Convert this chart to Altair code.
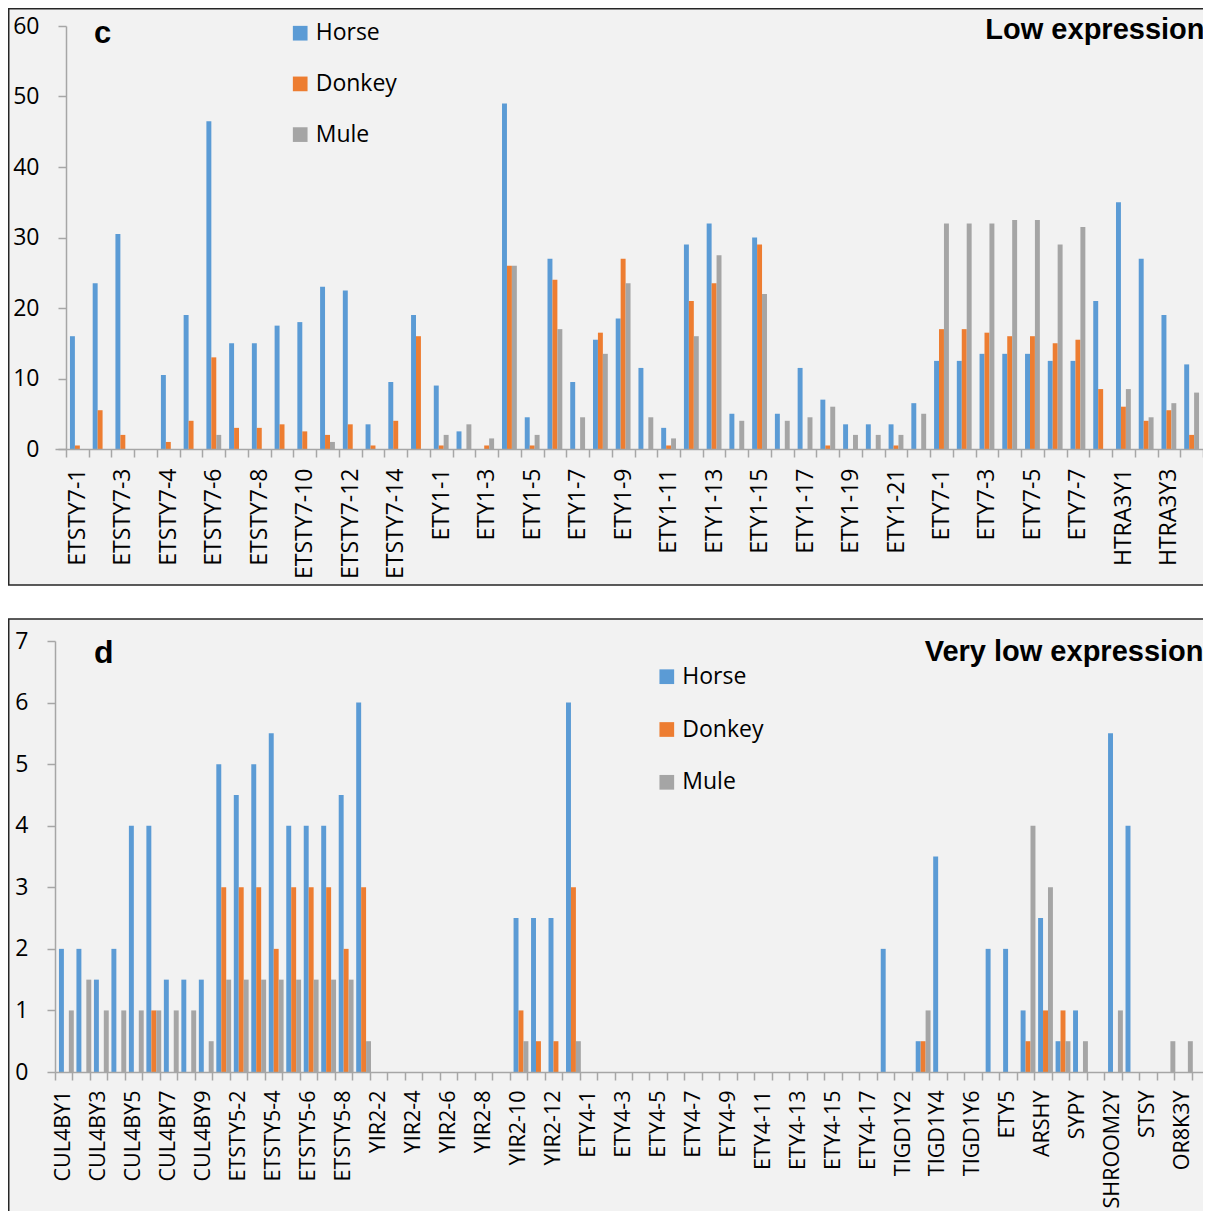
import json
import altair as alt
import pandas as pd

ANIMALS = ["Horse", "Donkey", "Mule"]
COLORS = ["#5b9bd5", "#ed7d31", "#a5a5a5"]

# ---------------- panel c : Low expression ----------------
GENES_C = [
    "ETSTY7-1", "ETSTY7-2", "ETSTY7-3", "ETSTY7-3b", "ETSTY7-4", "ETSTY7-5",
    "ETSTY7-6", "ETSTY7-7", "ETSTY7-8", "ETSTY7-9", "ETSTY7-10", "ETSTY7-11",
    "ETSTY7-12", "ETSTY7-13", "ETSTY7-14", "ETSTY7-15",
    "ETY1-1", "ETY1-2", "ETY1-3", "ETY1-4", "ETY1-5", "ETY1-6", "ETY1-7",
    "ETY1-8", "ETY1-9", "ETY1-10", "ETY1-11", "ETY1-12", "ETY1-13", "ETY1-14",
    "ETY1-15", "ETY1-16", "ETY1-17", "ETY1-18", "ETY1-19", "ETY1-20",
    "ETY1-21", "ETY1-22",
    "ETY7-1", "ETY7-2", "ETY7-3", "ETY7-4", "ETY7-5", "ETY7-6", "ETY7-7",
    "ETY7-8",
    "HTRA3Y1", "HTRA3Y2", "HTRA3Y3", "HTRA3Y4",
]
TICKS_C = [
    "ETSTY7-1", "ETSTY7-3", "ETSTY7-4", "ETSTY7-6", "ETSTY7-8", "ETSTY7-10",
    "ETSTY7-12", "ETSTY7-14", "ETY1-1", "ETY1-3", "ETY1-5", "ETY1-7", "ETY1-9",
    "ETY1-11", "ETY1-13", "ETY1-15", "ETY1-17", "ETY1-19", "ETY1-21",
    "ETY7-1", "ETY7-3", "ETY7-5", "ETY7-7", "HTRA3Y1", "HTRA3Y3",
]
HORSE_C = [16, 23.5, 30.5, 0, 10.5, 19, 46.5, 15, 15, 17.5, 18, 23, 22.5, 3.5,
           9.5, 19, 9, 2.5, 0, 49, 4.5, 27, 9.5, 15.5, 18.5, 11.5, 3, 29, 32, 5,
           30, 5, 11.5, 7, 3.5, 3.5, 3.5, 6.5, 12.5, 12.5, 13.5, 13.5, 13.5,
           12.5, 12.5, 21, 35, 27, 19, 12]
DONKEY_C = [0.5, 5.5, 2, 0, 1, 4, 13, 3, 3, 3.5, 2.5, 2, 3.5, 0.5, 4, 16, 0.5,
            0, 0.5, 26, 0.5, 24, 0, 16.5, 27, 0, 0.5, 21, 23.5, 0, 29, 0, 0,
            0.5, 0, 0, 0.5, 0, 17, 17, 16.5, 16, 16, 15, 15.5, 8.5, 6, 4, 5.5, 2]
MULE_C = [0, 0, 0, 0, 0, 0, 2, 0, 0, 0, 0, 1, 0, 0, 0, 0, 2, 3.5, 1.5, 26, 2,
          17, 4.5, 13.5, 23.5, 4.5, 1.5, 16, 27.5, 4, 22, 4, 4.5, 6, 2, 2, 2, 5,
          32, 32, 32, 32.5, 32.5, 29, 31.5, 0, 8.5, 4.5, 6.5, 8]
YTICKS_C = [0, 10, 20, 30, 40, 50, 60]

# ---------------- panel d : Very low expression ----------------
GENES_D = [
    "CUL4BY1", "CUL4BY2", "CUL4BY3", "CUL4BY4", "CUL4BY5", "CUL4BY6",
    "CUL4BY7", "CUL4BY8", "CUL4BY9",
    "ETSTY5-1", "ETSTY5-2", "ETSTY5-3", "ETSTY5-4", "ETSTY5-5", "ETSTY5-6",
    "ETSTY5-7", "ETSTY5-8",
    "YIR2-1", "YIR2-2", "YIR2-3", "YIR2-4", "YIR2-5", "YIR2-6", "YIR2-7",
    "YIR2-8", "YIR2-9", "YIR2-10", "YIR2-11", "YIR2-12", "YIR2-13",
    "ETY4-1", "ETY4-2", "ETY4-3", "ETY4-4", "ETY4-5", "ETY4-6", "ETY4-7",
    "ETY4-8", "ETY4-9", "ETY4-10", "ETY4-11", "ETY4-12", "ETY4-13", "ETY4-14",
    "ETY4-15", "ETY4-16", "ETY4-17",
    "TIGD1Y1", "TIGD1Y2", "TIGD1Y3", "TIGD1Y4", "TIGD1Y5", "TIGD1Y6",
    "TIGD1Y7", "ETY5", "ETY5-b", "ARSHY", "ARSHY-b", "SYPY", "SYPY-b",
    "SHROOM2Y", "SHROOM2Y-b", "STSY", "STSY-b", "OR8K3Y", "OR8K3Y-b",
]
TICKS_D = [
    "CUL4BY1", "CUL4BY3", "CUL4BY5", "CUL4BY7", "CUL4BY9", "ETSTY5-2",
    "ETSTY5-4", "ETSTY5-6", "ETSTY5-8", "YIR2-2", "YIR2-4", "YIR2-6",
    "YIR2-8", "YIR2-10", "YIR2-12", "ETY4-1", "ETY4-3", "ETY4-5", "ETY4-7",
    "ETY4-9", "ETY4-11", "ETY4-13", "ETY4-15", "ETY4-17", "TIGD1Y2",
    "TIGD1Y4", "TIGD1Y6", "ETY5", "ARSHY", "SYPY", "SHROOM2Y", "STSY",
    "OR8K3Y",
]
HORSE_D = [2, 2, 1.5, 2, 4, 4, 1.5, 1.5, 1.5,
           5, 4.5, 5, 5.5, 4, 4, 4, 4.5, 6,
           0, 0, 0, 0, 0, 0, 0, 0, 2.5, 2.5, 2.5, 6,
           0, 0, 0, 0, 0, 0, 0, 0, 0, 0, 0, 0, 0, 0, 0, 0, 0,
           2, 0, 0.5, 3.5, 0, 0, 2, 2, 1, 2.5, 0.5, 1, 0, 5.5, 4, 0, 0, 0, 0]
DONKEY_D = [0, 0, 0, 0, 0, 1, 0, 0, 0,
            3, 3, 3, 2, 3, 3, 3, 2, 3,
            0, 0, 0, 0, 0, 0, 0, 0, 1, 0.5, 0.5, 3,
            0, 0, 0, 0, 0, 0, 0, 0, 0, 0, 0, 0, 0, 0, 0, 0, 0,
            0, 0, 0.5, 0, 0, 0, 0, 0, 0.5, 1, 1, 0, 0, 0, 0, 0, 0, 0, 0]
MULE_D = [1, 1.5, 1, 1, 1, 1, 1, 1, 0.5,
          1.5, 1.5, 1.5, 1.5, 1.5, 1.5, 1.5, 1.5, 0.5,
          0, 0, 0, 0, 0, 0, 0, 0, 0.5, 0, 0, 0.5,
          0, 0, 0, 0, 0, 0, 0, 0, 0, 0, 0, 0, 0, 0, 0, 0, 0,
          0, 0, 1, 0, 0, 0, 0, 0, 4, 3, 0.5, 0.5, 0, 1, 0, 0, 0.5, 0.5, 0]
YTICKS_D = [0, 1, 2, 3, 4, 5, 6, 7]

FONT = "Open Sans"
AXIS_GRAY = "#a6a6a6"


def to_long(genes, horse, donkey, mule):
    rows = []
    for g, h, d, m in zip(genes, horse, donkey, mule):
        rows.append({"gene": g, "animal": "Horse", "value": h})
        rows.append({"gene": g, "animal": "Donkey", "value": d})
        rows.append({"gene": g, "animal": "Mule", "value": m})
    return pd.DataFrame(rows)


def x_axis(shown, size, pad):
    expr = "indexof(" + json.dumps(shown) + ", datum.value) >= 0 ? datum.value : ''"
    return alt.Axis(title=None, labelAngle=270, labelExpr=expr, labelOverlap=False,
                    labelFont=FONT, labelFontSize=size, labelColor="#000",
                    labelPadding=pad, labelLimit=0, tickBand="extent", tickSize=8,
                    tickColor=AXIS_GRAY, tickWidth=1.5, domainColor=AXIS_GRAY,
                    domainWidth=1.5, grid=False, zindex=1)


def y_axis(values, offset):
    return alt.Axis(title=None, values=values, labelFont=FONT, labelFontSize=23,
                    labelColor="#000", labelPadding=19, tickSize=8,
                    tickColor=AXIS_GRAY, tickWidth=1.5, domainColor=AXIS_GRAY,
                    domainWidth=1.5, grid=False, offset=offset, zindex=1)


def legend(lx, ly, row_pad):
    return alt.Legend(title=None, orient="none", legendX=lx, legendY=ly,
                      symbolType="square", symbolSize=216, symbolStrokeWidth=0,
                      labelFont=FONT, labelFontSize=23, labelColor="#000",
                      labelOffset=4, rowPadding=row_pad, padding=0)


def frame(x1, x2, y1, y2):
    return alt.Chart(alt.Data(values=[{}])).mark_rect(
        fill="#f2f2f2", stroke="#262626", strokeWidth=1.5
    ).encode(x=alt.value(x1), x2=alt.value(x2), y=alt.value(y1), y2=alt.value(y2))


def label(txt, x, y, size, align):
    return alt.Chart(alt.Data(values=[{}])).mark_text(
        text=txt, font="Liberation Sans", fontWeight="bold", fontSize=size,
        align=align, baseline="alphabetic", color="#000"
    ).encode(x=alt.value(x), y=alt.value(y))


color_scale = alt.Scale(domain=ANIMALS, range=COLORS)

# page geometry: svg is 1195 x 1203, top-left at page (8, 8)
SVG_W, SVG_H = 1195, 1203
PAD_L, PAD_T = 47, 18

# panel c (plot origin at page 55, 26)
W_C, H_C = 1148, 423
step_c = (W_C - 11) / len(GENES_C)
po_c = 11 / (2 * step_c)
df_c = to_long(GENES_C, HORSE_C, DONKEY_C, MULE_C)
bars_c = alt.Chart(df_c).mark_bar().encode(
    x=alt.X("gene:N", sort=GENES_C,
            scale=alt.Scale(paddingInner=0, paddingOuter=po_c, align=1),
            axis=x_axis(TICKS_C, 23, 11)),
    xOffset=alt.XOffset("animal:N", sort=ANIMALS,
                        scale=alt.Scale(paddingInner=0, paddingOuter=0.8)),
    y=alt.Y("value:Q", scale=alt.Scale(domain=[0, 60], nice=False),
            axis=y_axis(YTICKS_C, -11)),
    color=alt.Color("animal:N", sort=ANIMALS, scale=color_scale,
                    legend=legend(233.7, -4.3, 26.7)),
)
panel_c = alt.layer(
    frame(-46.25, 1180, -17.25, 559),
    bars_c,
    label("c", 39, 17.3, 31, "left"),
    label("Low expression", 1149.5, 13.3, 29, "right"),
).properties(width=W_C, height=H_C)

# panel d (plot origin at page 55, 641)
W_D, H_D = 1154, 431
df_d = to_long(GENES_D, HORSE_D, DONKEY_D, MULE_D)
bars_d = alt.Chart(df_d).mark_bar().encode(
    x=alt.X("gene:N", sort=GENES_D,
            scale=alt.Scale(paddingInner=0, paddingOuter=0),
            axis=x_axis(TICKS_D, 21.5, 10)),
    xOffset=alt.XOffset("animal:N", sort=ANIMALS,
                        scale=alt.Scale(paddingInner=0, paddingOuter=0.8)),
    y=alt.Y("value:Q", scale=alt.Scale(domain=[0, 7], nice=False),
            axis=y_axis(YTICKS_D, 0)),
    color=alt.Color("animal:N", sort=ANIMALS, scale=color_scale,
                    legend=legend(600.3, 24.2, 28.8)),
)
panel_d = alt.layer(
    frame(-46.25, 1180, -22, 640),
    bars_d,
    label("d", 39, 21.7, 32, "left"),
    label("Very low expression", 1148.5, 19.7, 29, "right"),
).properties(width=W_D, height=H_D)

chart = alt.vconcat(panel_c, panel_d, spacing=192, bounds="flush").properties(
    autosize=alt.AutoSizeParams(type="none"),
    padding={"left": PAD_L, "top": PAD_T,
             "right": SVG_W - PAD_L, "bottom": SVG_H - PAD_T},
    background="white",
).resolve_scale(color="independent").resolve_legend(color="independent").configure_view(
    stroke=None
)

chart.save("out.html", embed_options={"renderer": "svg", "actions": False})
